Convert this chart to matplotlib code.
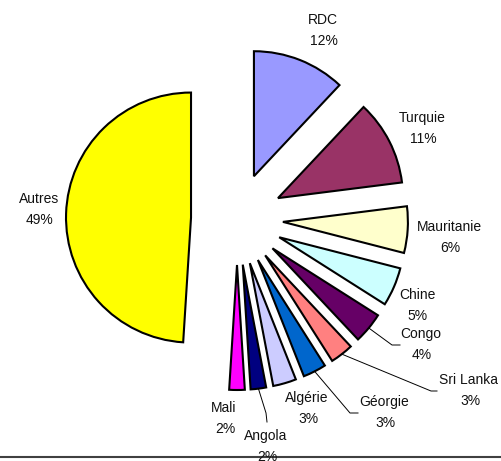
import matplotlib.pyplot as plt
import numpy as np

plt.rcParams['font.family'] = ['Liberation Sans', 'DejaVu Sans']

# Data
pays = ["RDC", "Turquie", "Mauritanie", "Chine", "Congo", "Sri Lanka",
        "Géorgie", "Algérie", "Angola", "Mali", "Autres"]
parts = [12, 11, 6, 5, 4, 3, 3, 3, 2, 2, 49]

couleurs = ["#9999FF", "#993366", "#FFFFCC", "#CCFFFF", "#660066", "#FF8080",
            "#0066CC", "#CCCCFF", "#000080", "#FF00FF", "#FFFF00"]

# Layout (pixel coords of the 502x461 canvas, y measured from top)
W, H = 502, 461
centre_px = (237, 219)
rayon = 125
ecart = 46
# label centre (name line), pct is drawn 21 px lower
pos_labels = [(323, 20), (422, 118), (449, 227), (417, 295), (421, 334),
              (469, 380), (384, 402), (307, 398), (266, 436), (224, 408),
              (39, 199)]
# leader lines: intermediate points (pixel coords), None = no line
guides = [None, None, None, None,
          [(392, 345), (400, 345)],
          [(431, 391), (437, 391)],
          [(350, 413), (358, 413)],
          None,
          [(266, 413), (267, 422)],
          None, None]

fig = plt.figure(figsize=(W / 100, H / 100), dpi=100)
ax = fig.add_axes([0, 0, 1, 1])

cx, cy = centre_px[0], H - centre_px[1]
wedges, _ = ax.pie(parts, colors=couleurs, startangle=90, counterclock=False,
                   radius=rayon, center=(cx, cy), explode=[ecart] * len(parts),
                   wedgeprops=dict(edgecolor="black", linewidth=1.5),
                   frame=True)
ax.set_xlim(0, W)
ax.set_ylim(0, H)
ax.set_aspect("equal")
ax.axis("off")

for i, (nom, p) in enumerate(zip(pays, parts)):
    lx, ly = pos_labels[i]
    ax.text(lx, H - ly, nom, ha="center", va="center", fontsize=10, color="#111111")
    ax.text(lx + 1, H - ly - 21, f"{p}%", ha="center", va="center", fontsize=10,
            color="#111111")
    if guides[i] is not None:
        w = wedges[i]
        mid = np.deg2rad((w.theta1 + w.theta2) / 2)
        x0 = w.center[0] + w.r * np.cos(mid)
        y0 = w.center[1] + w.r * np.sin(mid)
        xs = [x0] + [g[0] for g in guides[i]]
        ys = [y0] + [H - g[1] for g in guides[i]]
        ax.plot(xs, ys, color="black", linewidth=0.7)

# bottom border line
ax.axhline(H - 457, color="#404040", linewidth=1.5)

fig.savefig("out.png", dpi=100)
